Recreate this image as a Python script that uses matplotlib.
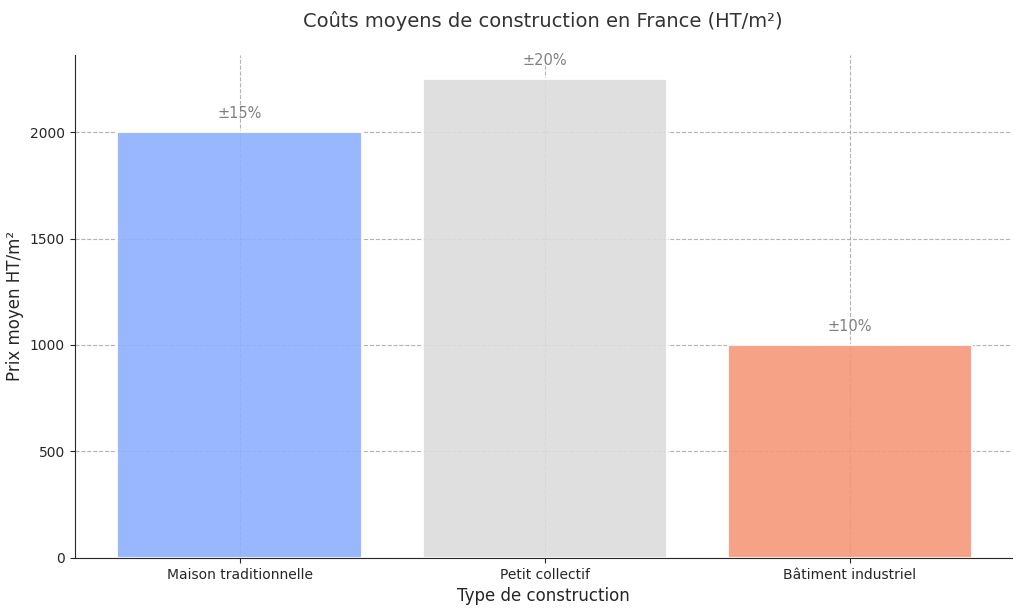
import numpy as np
import matplotlib
matplotlib.use("Agg")
import matplotlib.pyplot as plt
import seaborn as sns

categories = ["Maison traditionnelle", "Petit collectif", "Bâtiment industriel"]
prix = [2000, 2250, 1000]
marges = ["±15%", "±20%", "±10%"]

sns.set_style("ticks")
plt.rcParams['font.family'] = ['DejaVu Sans']

fig, ax = plt.subplots(figsize=(10.24, 6.11), dpi=100)
colors = sns.color_palette("coolwarm", 3)
x = np.arange(len(categories))
ax.bar(x, prix, color=colors, alpha=0.9, width=0.8, edgecolor="white", linewidth=1.5, zorder=2)
ax.grid(True, linestyle="--", color="#a0a0a0", linewidth=0.8, alpha=0.8)
ax.set_axisbelow(True)

for xi, v, m in zip(x, prix, marges):
    ax.text(xi, v + 50, m, ha="center", va="bottom", fontsize=10.5, color="gray", zorder=4)

ax.set_xticks(x)
ax.set_xticklabels(categories, fontsize=10)
ax.tick_params(axis="y", labelsize=10)
ax.set_xlim(-0.54, 2.53)
ax.set_ylim(0, 2362)
ax.set_yticks([0, 500, 1000, 1500, 2000])
ax.set_title("Coûts moyens de construction en France (HT/m²)", fontsize=14, color="#333333", pad=20)
ax.set_xlabel("Type de construction", fontsize=12)
ax.set_ylabel("Prix moyen HT/m²", fontsize=12)
sns.despine(ax=ax)

fig.subplots_adjust(left=0.073, right=0.988, top=0.91, bottom=0.087)
fig.savefig("out.png", dpi=100)
